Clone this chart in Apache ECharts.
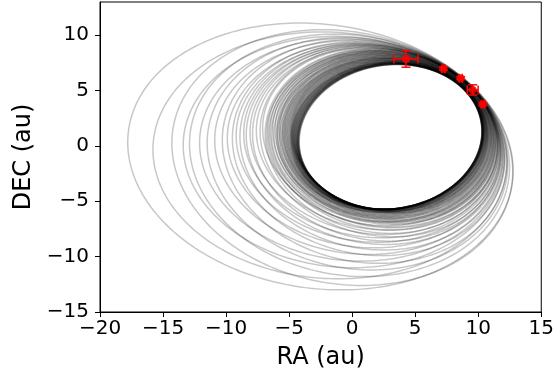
<!DOCTYPE html>
<html><head><meta charset="utf-8">
<script src="https://cdn.jsdelivr.net/npm/echarts@6/dist/echarts.min.js"></script>
<style>html,body{margin:0;padding:0;background:#fff}#c{width:557px;height:380px}</style>
</head><body><div id="c"></div>
<script>
// axis ticks
const xTicks = [-20, -15, -10, -5, 0, 5, 10, 15];
const yTicks = [-15, -10, -5, 0, 5, 10];

// observed relative astrometry (au)
const obsRA = [4.27, 7.24, 8.61, 9.56, 10.37];
const obsDEC = [7.86, 6.98, 6.12, 5.06, 3.77];
const obsRAerr = [0.95, 0.12, 0.12, 0.43, 0.12];
const obsDECerr = [0.75, 0.12, 0.12, 0.46, 0.12];

// two points in the orbit band along the observed arc
const anchorRA = [7.0, 10.1];
const anchorDEC = [6.85, 3.68];

// per orbit extents: westernmost RA, northernmost DEC, southernmost DEC
const orbitLeftRA = [
 -17.8, -15.8, -14.3, -13.4, -12.9, -12.1, -11.5, -10.9, -10.3, -9.9,
 -9.5, -9.2, -8.9, -8.6, -8.4, -8.1, -7.9, -7.6, -7.3, -7.1,
 -6.9, -6.8, -6.7, -6.6, -6.5, -6.4, -6.3, -6.2, -6.1, -6.0,
 -5.95, -5.9, -5.8, -5.75, -5.7, -5.6, -5.55, -5.5, -5.45, -5.4,
 -5.35, -5.3, -5.25, -5.2, -5.15, -5.1, -5.05, -5.0, -4.95, -4.9,
 -4.88, -4.85, -4.82, -4.8, -4.77, -4.75, -4.72, -4.7, -4.67, -4.65,
 -4.62, -4.6, -4.57, -4.55, -4.52, -4.5, -4.47, -4.45, -4.42, -4.4,
 -4.38, -4.36, -4.34, -4.32, -4.3, -4.28, -4.26, -4.24, -4.22, -4.2
];
const orbitTopDEC = [
 11.1, 10.3, 10.5, 9.9, 10.1, 9.7, 9.8, 9.5, 9.6, 9.3,
 9.4, 9.2, 9.25, 9.1, 9.15, 9.0, 9.05, 8.9, 8.95, 8.85,
 8.8, 8.6, 8.75, 8.5, 8.7, 8.4, 8.65, 8.3, 8.6, 8.2,
 8.55, 8.1, 8.5, 8.0, 8.45, 7.95, 8.4, 7.9, 8.35, 7.85,
 8.3, 7.8, 8.25, 7.75, 8.2, 7.7, 8.15, 7.65, 8.1, 7.6,
 8.05, 7.6, 8.0, 7.55, 7.95, 7.55, 7.9, 7.5, 7.85, 7.5,
 7.8, 7.48, 7.75, 7.45, 7.7, 7.45, 7.65, 7.42, 7.6, 7.4,
 7.55, 7.4, 7.5, 7.38, 7.48, 7.37, 7.45, 7.36, 7.4, 7.35
];
const orbitBottomDEC = [
 -13.0, -12.0, -12.6, -11.0, -11.8, -10.4, -11.2, -9.8, -10.6, -9.2,
 -9.9, -8.7, -9.4, -8.3, -8.9, -8.0, -8.6, -7.6, -8.2, -7.3,
 -7.9, -7.2, -7.6, -6.9, -7.4, -6.8, -7.1, -6.6, -7.0, -6.5,
 -6.9, -6.4, -6.8, -6.3, -6.7, -6.2, -6.6, -6.1, -6.5, -6.0,
 -6.4, -6.0, -6.3, -5.95, -6.2, -5.9, -6.1, -5.85, -6.05, -5.8,
 -6.0, -5.8, -5.95, -5.78, -5.9, -5.76, -5.88, -5.75, -5.85, -5.74,
 -5.83, -5.73, -5.8, -5.72, -5.78, -5.72, -5.76, -5.71, -5.75, -5.7,
 -5.74, -5.7, -5.73, -5.7, -5.72, -5.7, -5.71, -5.7, -5.7, -5.7
];
// small radial scatter of each orbit about the observed arc
const orbitSpread = [
 0.09, 0.08, 0.085, 0.07, 0.08, 0.07, 0.075, 0.065, 0.07, 0.06,
 0.065, 0.06, 0.06, 0.055, 0.06, 0.05, 0.055, 0.05, 0.05, 0.045,
 0.06, 0.045, 0.055, 0.04, 0.055, 0.03, 0.05, 0.025, 0.045, 0.02,
 0.045, 0.01, 0.04, 0.005, 0.035, 0.0, 0.03, -0.005, 0.03, -0.005,
 0.025, -0.01, 0.02, -0.012, 0.02, -0.015, 0.015, -0.018, 0.012, -0.02,
 0.008, -0.022, 0.005, -0.025, 0.0, -0.026, -0.003, -0.028, -0.006, -0.03,
 -0.008, -0.03, -0.012, -0.032, -0.015, -0.033, -0.018, -0.035, -0.022, -0.036,
 -0.026, -0.037, -0.028, -0.038, -0.03, -0.039, -0.032, -0.04, -0.036, -0.04
];

const REF = [3.1, 1.0];

// ellipse with given west / north / south extents through two arc points:
// x = cx + uT sin t + P cos t, y = cy + H sin t
function fitOrbit(xL, yT, yB, p1, p2) {
  const cy = (yT + yB) / 2, H = (yT - yB) / 2;
  const v1 = (p1[1] - cy) / H, v2 = (p2[1] - cy) / H;
  if (Math.abs(v1) >= 1 || Math.abs(v2) >= 1) return null;
  const s1 = Math.sqrt(1 - v1 * v1), s2 = Math.sqrt(1 - v2 * v2);
  const uOf = P => ((p1[0] - p2[0]) - P * (s1 - s2)) / (v1 - v2);
  const f = P => { const u = uOf(P); return xL + Math.hypot(P, u) + u * v1 + P * s1 - p1[0]; };
  let lo = null, hi = null, prev = 0.5, fp = f(prev);
  for (let P = 0.75; P <= 60; P += 0.25) {
    const fv = f(P);
    if (fp < 0 && fv >= 0) { lo = prev; hi = P; break; }
    prev = P; fp = fv;
  }
  if (lo === null) return null;
  for (let it = 0; it < 60; it++) {
    const m = (lo + hi) / 2;
    if (f(m) < 0) lo = m; else hi = m;
  }
  const P = (lo + hi) / 2, uT = uOf(P);
  return { P, uT, H, cy, cx: xL + Math.hypot(P, uT) };
}

const series = [];
for (let i = 0; i < orbitLeftRA.length; i++) {
  const d = orbitSpread[i];
  const pts = anchorRA.map((x, k) => [REF[0] + (x - REF[0]) * (1 + d), REF[1] + (anchorDEC[k] - REF[1]) * (1 + d)]);
  const g = fitOrbit(orbitLeftRA[i], orbitTopDEC[i], orbitBottomDEC[i], pts[0], pts[1]);
  if (!g) continue;
  const curve = [];
  const N = 240;
  for (let j = 0; j <= N; j++) {
    const t = (j / N) * Math.PI * 2;
    curve.push([g.cx + g.uT * Math.sin(t) + g.P * Math.cos(t), g.cy + g.H * Math.sin(t)]);
  }
  series.push({
    type: 'line', data: curve, showSymbol: false, symbol: 'none', silent: true,
    animation: false, z: 1, clip: true,
    lineStyle: { color: '#000', opacity: 0.22, width: 1.5 }
  });
}

const obsData = obsRA.map((x, i) => [x, obsDEC[i], obsRAerr[i], obsDECerr[i]]);
series.push({
  type: 'custom', z: 5, silent: true, animation: false,
  data: obsData,
  renderItem: function (params, api) {
    const x = api.value(0), y = api.value(1), ex = api.value(2), ey = api.value(3);
    const l = api.coord([x - ex, y]), r = api.coord([x + ex, y]);
    const t = api.coord([x, y + ey]), b = api.coord([x, y - ey]);
    const cap = 4.5;
    const st = { stroke: '#ff0000', lineWidth: 1.5 };
    const ln = (x1, y1, x2, y2) => ({ type: 'line', shape: { x1, y1, x2, y2 }, style: st });
    return { type: 'group', children: [
      ln(l[0], l[1], r[0], r[1]),
      ln(t[0], t[1], b[0], b[1]),
      ln(l[0], l[1] - cap, l[0], l[1] + cap),
      ln(r[0], r[1] - cap, r[0], r[1] + cap),
      ln(t[0] - cap, t[1], t[0] + cap, t[1]),
      ln(b[0] - cap, b[1], b[0] + cap, b[1])
    ]};
  }
});
series.push({
  type: 'scatter', z: 6, silent: true, animation: false,
  data: obsRA.map((x, i) => [x, obsDEC[i]]),
  symbol: 'circle', symbolSize: 8, itemStyle: { color: '#ff0000' }
});

const fmt = v => String(v).replace('-', '\u2212');
const font = 'DejaVu Sans';

const chart = echarts.init(document.getElementById('c'));
chart.setOption({
  animation: false,
  grid: { left: 100, top: 2, width: 443, height: 310, show: true, borderColor: '#000', borderWidth: 1, backgroundColor: '#fff' },
  xAxis: {
    type: 'value', min: -20, max: 15, interval: 5,
    name: 'RA (au)', nameLocation: 'middle', nameGap: 34,
    nameTextStyle: { fontFamily: font, fontSize: 24, color: '#000' },
    axisLine: { onZero: false, lineStyle: { color: '#000', width: 1 } },
    axisTick: { show: true, inside: false, length: 5, lineStyle: { color: '#000', width: 1 }, customValues: xTicks },
    axisLabel: { fontFamily: font, fontSize: 20, color: '#000', margin: 7, formatter: fmt, customValues: xTicks },
    splitLine: { show: false }
  },
  yAxis: {
    type: 'value', min: -15, max: 13, interval: 5,
    name: 'DEC (au)', nameLocation: 'middle', nameGap: 64,
    nameTextStyle: { fontFamily: font, fontSize: 24, color: '#000' },
    axisLine: { onZero: false, lineStyle: { color: '#000', width: 1 } },
    axisTick: { show: true, inside: false, length: 5, lineStyle: { color: '#000', width: 1 }, customValues: yTicks },
    axisLabel: { fontFamily: font, fontSize: 20, color: '#000', margin: 11, formatter: fmt, customValues: yTicks },
    splitLine: { show: false }
  },
  series: series
});
</script>
</body></html>
